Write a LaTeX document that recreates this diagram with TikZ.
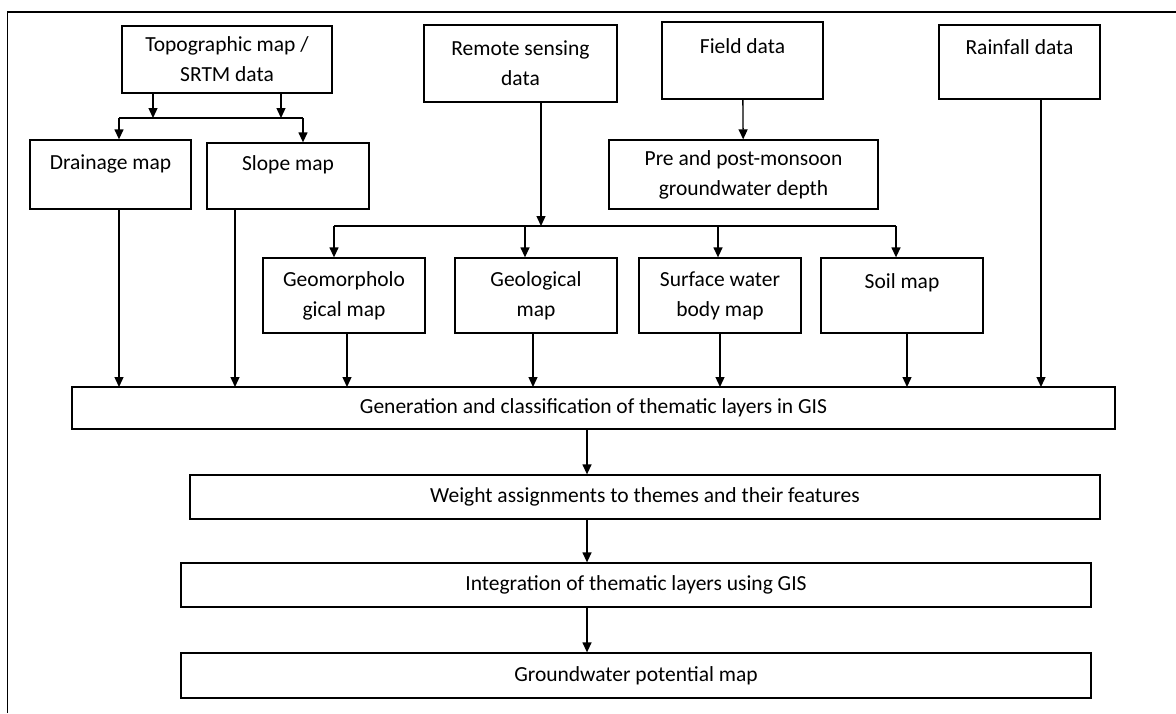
\documentclass[tikz,border=0pt]{standalone}
\usepackage{fontspec}
\setmainfont{Carlito}
\usetikzlibrary{arrows.meta}

\begin{document}
\begin{tikzpicture}[x=1pt, y=-1pt, text=black, >={Triangle[length=10pt,width=9pt]},
	box/.style={draw, line width=1.3pt, inner sep=0pt, align=center, font=\fontsize{21.5}{30}\selectfont},
	conn/.style={line width=1.3pt}]
	\def \rowone {295.5}
\def \mapw {162}
\def \maph {75}
\def \blank {\\[-10pt]\strut}

\useasboundingbox (0,0) rectangle (1176,713);

%outer frame
\draw[line width=1.2pt] (7.7,713) -- (7.7,12) -- (1176,12);

%data sources
\node[box, minimum width=210, minimum height=67] (topo) at (227,59.5) {Topographic map /\\SRTM data};
\node[box, minimum width=193, minimum height=77] (remote) at (520.5,63.5) {Remote sensing\\data};
\node[box, minimum width=161, minimum height=77] (field) at (742.5,60.5) {Field data\blank};
\node[box, minimum width=161, minimum height=74] (rain) at (1019.5,62) {Rainfall data\blank};

%derived maps
\node[box, minimum width=161, minimum height=69] (drain) at (110.5,174.5) {Drainage map\\[-14pt]\strut};
\node[box, minimum width=162, minimum height=66] (slope) at (288,176) {Slope map\\[-14pt]\strut};
\node[box, minimum width=269, minimum height=69] (depth) at (743.5,174.5) {Pre and post-monsoon\\groundwater depth};

\node[box, minimum width=\mapw, minimum height=\maph] (geomorph) at (344,\rowone) {Geomorpholo\\gical map};
\node[box, minimum width=\mapw, minimum height=\maph] (geolog) at (536,\rowone) {Geological\\map};
\node[box, minimum width=\mapw, minimum height=\maph] (surface) at (720,\rowone) {Surface water\\body map};
\node[box, minimum width=\mapw, minimum height=\maph] (soil) at (902,\rowone) {Soil map\blank};

%GIS steps
\node[box, minimum width=1043, minimum height=42] (layers) at (593.5,408) {Generation and classification of thematic layers in GIS};
\node[box, minimum width=910, minimum height=44] (weight) at (645,497) {Weight assignments to themes and their features};
\node[box, minimum width=910, minimum height=44] (integ) at (636,585) {Integration of thematic layers using GIS};
\node[box, minimum width=910, minimum height=45] (gwmap) at (636,675.5) {Groundwater potential map};

%topographic split
\coordinate (ta) at (153,118);
\coordinate (tb) at (281,118);
\coordinate (tl) at (119,118);
\coordinate (tr) at (303,118);
\draw[conn, ->] (topo.south -| ta) -- (ta);
\draw[conn, ->] (topo.south -| tb) -- (tb);
\draw[conn] (tl) -- (tr);
\draw[conn, ->] (tl) -- (tl |- drain.north);
\draw[conn, ->] (tr) -- (tr |- slope.north);

%remote sensing split
\coordinate (rs) at (541,226);
\coordinate (r1) at (334,226);
\coordinate (r2) at (525,226);
\coordinate (r3) at (718,226);
\coordinate (r4) at (896,226);
\draw[conn, ->] (remote.south -| rs) -- (rs);
\draw[conn] (r1) -- (r4);
\draw[conn, ->] (r1) -- (r1 |- geomorph.north);
\draw[conn, ->] (r2) -- (r2 |- geolog.north);
\draw[conn, ->] (r3) -- (r3 |- surface.north);
\draw[conn, ->] (r4) -- (r4 |- soil.north);

%field data
\draw[conn, ->] (field) -- (depth);

%inputs to GIS layers
\coordinate (i1) at (119,387);
\coordinate (i2) at (235,387);
\coordinate (i3) at (347,387);
\coordinate (i4) at (533,387);
\coordinate (i5) at (720,387);
\coordinate (i6) at (907,387);
\coordinate (i7) at (1041,387);
\draw[conn, ->] (drain.south -| i1) -- (i1);
\draw[conn, ->] (slope.south -| i2) -- (i2);
\draw[conn, ->] (geomorph.south -| i3) -- (i3);
\draw[conn, ->] (geolog.south -| i4) -- (i4);
\draw[conn, ->] (surface.south -| i5) -- (i5);
\draw[conn, ->] (soil.south -| i6) -- (i6);
\draw[conn, ->] (rain.south -| i7) -- (i7);

%main chain
\coordinate (c) at (587,0);
\draw[conn, ->] (layers.south -| c) -- (weight.north -| c);
\draw[conn, ->] (weight.south -| c) -- (integ.north -| c);
\draw[conn, ->] (integ.south -| c) -- (gwmap.north -| c);

	\end{tikzpicture}
\end{document}
